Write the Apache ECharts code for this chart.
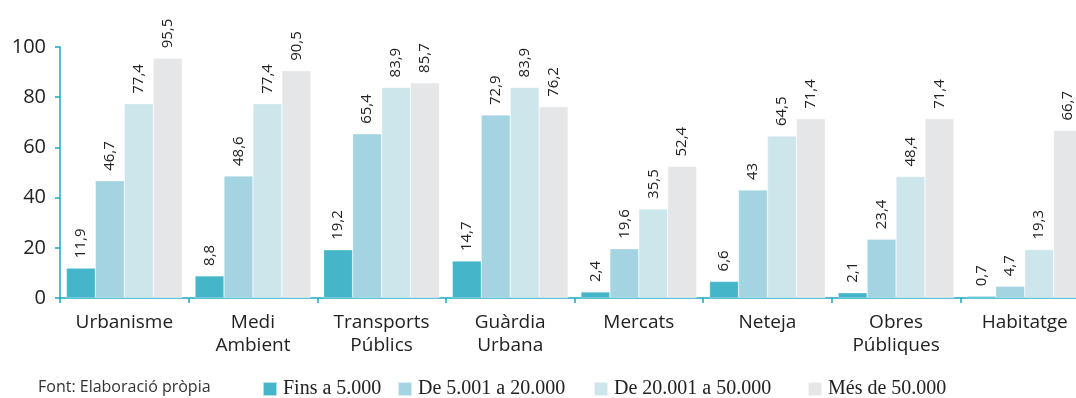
<!DOCTYPE html>
<html>
<head>
<meta charset="utf-8">
<script src="https://cdn.jsdelivr.net/npm/echarts@6/dist/echarts.min.js"></script>
<style>
html,body{margin:0;padding:0;background:#fff;}
#chart{width:1076px;height:398px;}
</style>
</head>
<body>
<div id="chart"></div>
<script>
// Àrees de gestió municipal
const categories = ['Urbanisme', 'Medi\nAmbient', 'Transports\nPúblics', 'Guàrdia\nUrbana', 'Mercats', 'Neteja', 'Obres\nPúbliques', 'Habitatge'];

// Percentatges per trams de població
const fins5000 = [11.9, 8.8, 19.2, 14.7, 2.4, 6.6, 2.1, 0.7];
const de5001a20000 = [46.7, 48.6, 65.4, 72.9, 19.6, 43, 23.4, 4.7];
const de20001a50000 = [77.4, 77.4, 83.9, 83.9, 35.5, 64.5, 48.4, 19.3];
const mesDe50000 = [95.5, 90.5, 85.7, 76.2, 52.4, 71.4, 71.4, 66.7];

const seriesNames = ['Fins a 5.000', 'De 5.001 a 20.000', 'De 20.001 a 50.000', 'Més de 50.000'];
const seriesData = [fins5000, de5001a20000, de20001a50000, mesDe50000];
const seriesColors = ['#45b6ca', '#a4d4e1', '#cde6ec', '#e5e6e8'];
const legendLeft = [262, 397, 593, 807];

const yTicks = [0, 20, 40, 60, 80, 100];

const sans = '"Open Sans", sans-serif';
const axisColor = '#1aa9c4';

const chart = echarts.init(document.getElementById('chart'));

const fmt = v => String(v).replace('.', ',');

const option = {
  animation: false,
  // the plot runs slightly past the right edge of the canvas
  grid: { left: 60, width: 1029, top: 47, bottom: 100, containLabel: false, outerBoundsMode: 'none' },
  legend: seriesNames.map((n, i) => ({
    data: [n],
    left: legendLeft[i],
    top: 379,
    itemWidth: 14,
    itemHeight: 14,
    itemGap: 5,
    icon: 'rect',
    textStyle: { fontFamily: '"Liberation Serif", serif', fontSize: 20, color: '#222', padding: [0, 0, 0, 1] },
    padding: 0
  })),
  graphic: [{
    type: 'text',
    left: 38,
    top: 379,
    style: { text: 'Font: Elaboració pròpia', fontFamily: sans, fontSize: 16, fill: '#333' }
  }],
  xAxis: {
    type: 'category',
    data: categories,
    axisLine: { lineStyle: { color: axisColor, width: 1.5 } },
    axisTick: { show: true, length: 5, lineStyle: { color: axisColor, width: 1.5 } },
    axisLabel: { fontFamily: sans, fontSize: 19, color: '#222', margin: 13, lineHeight: 23 }
  },
  yAxis: {
    type: 'value',
    min: yTicks[0],
    max: yTicks[yTicks.length - 1],
    interval: 20,
    axisLine: { show: true, lineStyle: { color: axisColor, width: 1.5 } },
    axisTick: { show: true, length: 5, lineStyle: { color: axisColor, width: 1.5 } },
    splitLine: { show: false },
    axisLabel: { fontFamily: sans, fontSize: 20, color: '#222', margin: 14 }
  },
  series: seriesNames.map((n, i) => ({
    name: n,
    type: 'bar',
    data: seriesData[i],
    barGap: '0%',
    barCategoryGap: '10%',
    itemStyle: { color: seriesColors[i], borderColor: 'rgba(255,255,255,0.6)', borderWidth: 0.5 },
    label: {
      show: true,
      position: 'top',
      rotate: 90,
      align: 'left',
      verticalAlign: 'middle',
      distance: 10,
      fontFamily: sans,
      fontSize: 15,
      color: '#222',
      formatter: p => fmt(p.value)
    }
  }))
};

chart.setOption(option);
</script>
</body>
</html>
